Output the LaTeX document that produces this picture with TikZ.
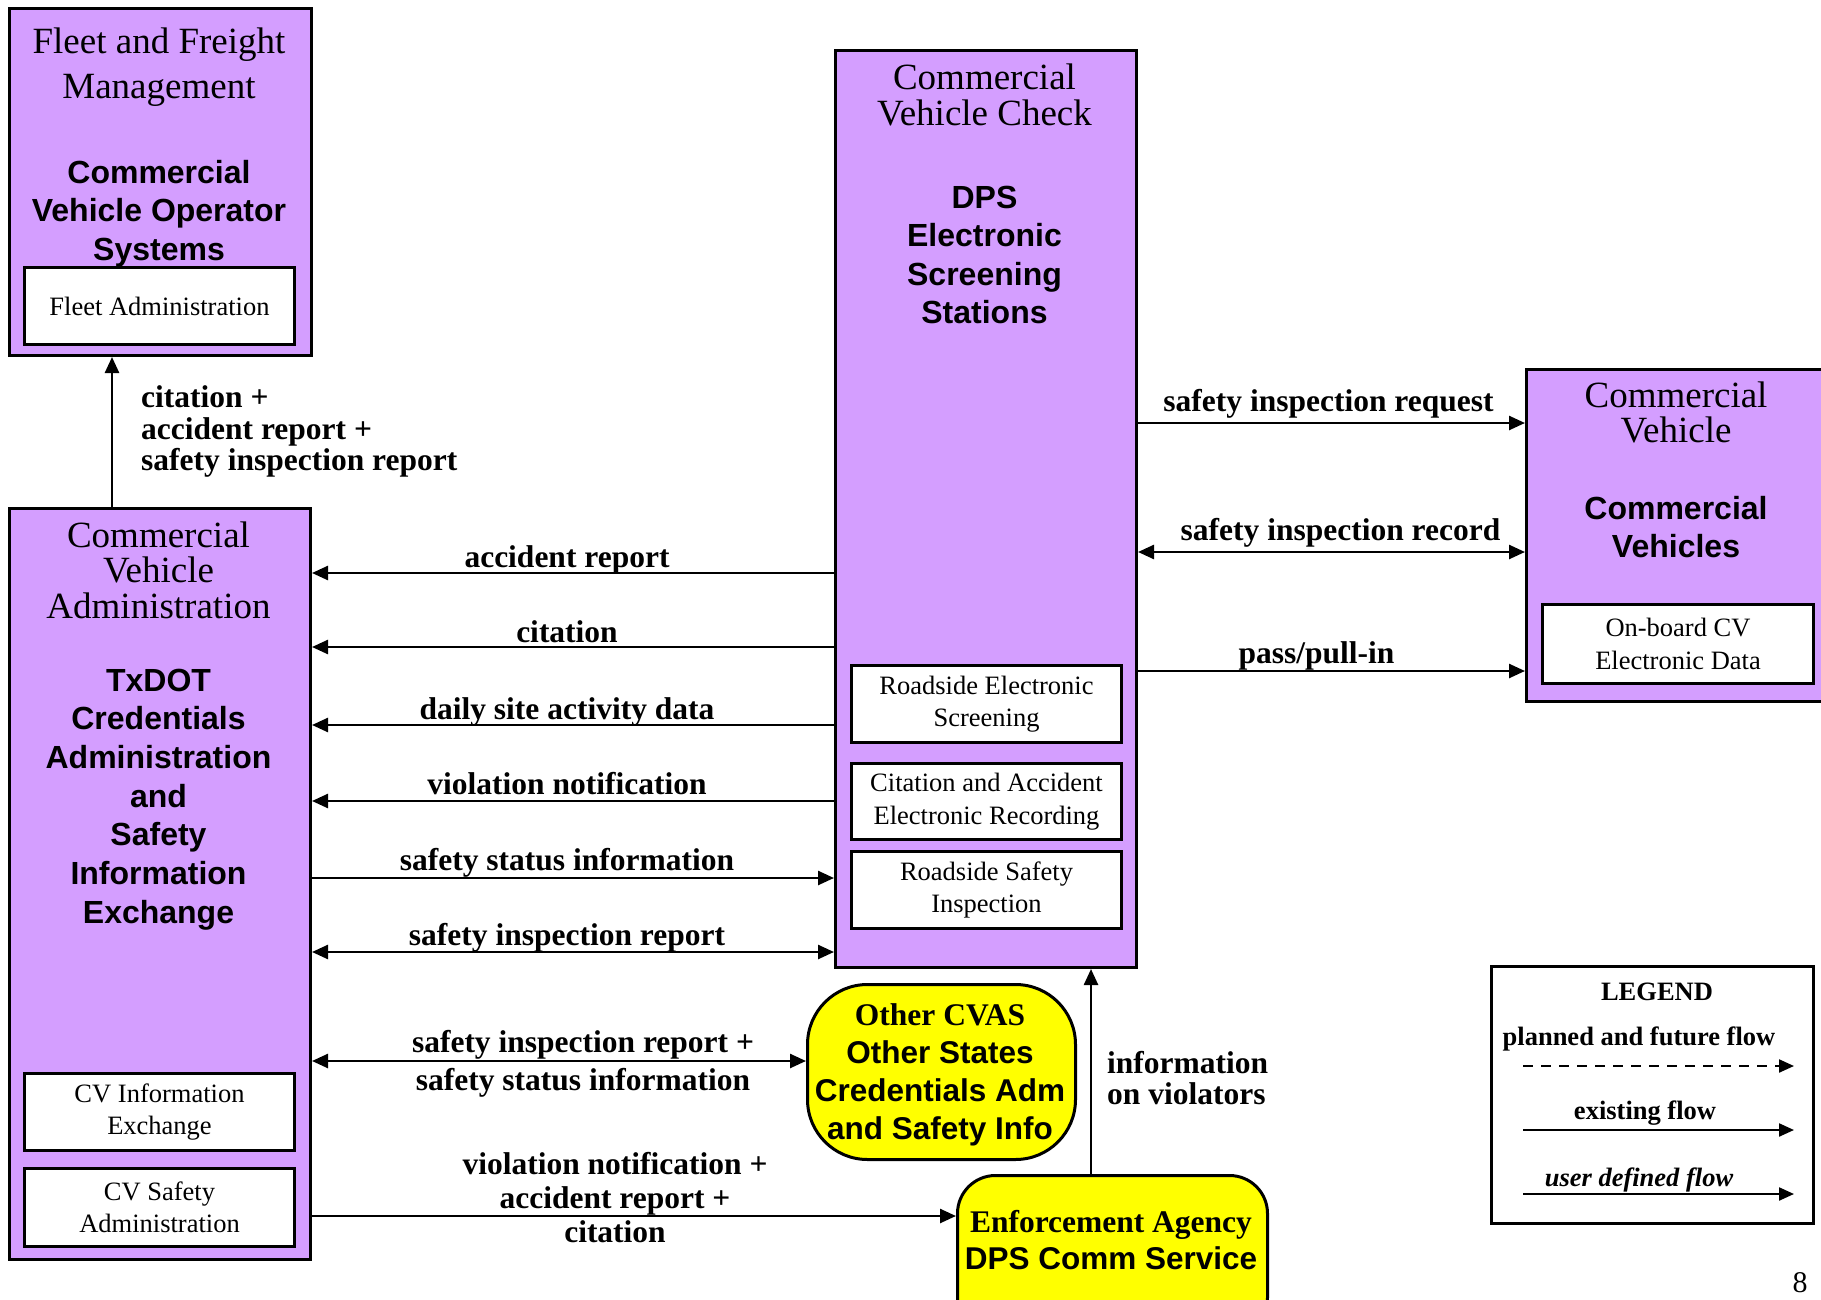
\documentclass[tikz,border=0pt]{standalone}
\usepackage{fontspec}
\setmainfont{Liberation Serif}
\setsansfont{Liberation Sans}
\usetikzlibrary{arrows.meta,calc}
\definecolor{sysviolet}{RGB}{212,158,255}
\definecolor{termyellow}{RGB}{255,255,0}
\begin{document}
\begin{tikzpicture}[x=1pt,y=-1pt,
  sysbox/.style={draw, line width=3pt, fill=sysviolet, anchor=north west, inner sep=0pt},
  subbox/.style={draw, line width=3pt, fill=white, anchor=north west, inner sep=0pt, align=center, font=\fontsize{26.5}{32.5}\selectfont},
  termbox/.style={draw, line width=3pt, fill=termyellow, anchor=north west, inner sep=0pt},
  ttl/.style={align=center, font=\fontsize{37}{36}\selectfont, inner sep=0pt},
  bld/.style={align=center, font=\sffamily\bfseries\fontsize{32}{38.3}\selectfont, inner sep=0pt},
  lbl/.style={font=\bfseries\fontsize{31.5}{31.5}\selectfont, inner sep=0pt},
  legtxt/.style={font=\bfseries\fontsize{26.5}{30}\selectfont, inner sep=0pt},
  flow/.style={line width=2.5pt, -{Triangle[length=16pt,width=14pt]}},
  flowtwo/.style={line width=2.5pt, {Triangle[length=16pt,width=14pt]}-{Triangle[length=16pt,width=14pt]}},
  legflow/.style={line width=2.2pt, -{Triangle[length=15pt,width=13pt]}},
]
\useasboundingbox (0,0) rectangle (1821,1300);
\clip (0,0) rectangle (1821,1300);

% coordinates for connector levels
\coordinate (xFl) at (112,0);
\coordinate (xInf) at (1091,0);
\coordinate (yAR) at (0,573);
\coordinate (yCit) at (0,647);
\coordinate (yDaily) at (0,725);
\coordinate (yViol) at (0,801);
\coordinate (ySSI) at (0,878);
\coordinate (ySIR) at (0,952);
\coordinate (yOth) at (0,1061);
\coordinate (yEnf) at (0,1216);
\coordinate (yReq) at (0,423);
\coordinate (yRec) at (0,552);
\coordinate (yPass) at (0,671);

% Fleet and Freight Management
\node[sysbox, minimum width=302pt, minimum height=347pt] (fleet) at (8,7) {};
\node[ttl, font=\fontsize{37}{45}\selectfont] (fleetT) at (159,67.5) {Fleet and Freight\\Management};
\node[bld] (fleetB) at (159,213.5) {Commercial\\Vehicle Operator\\Systems};
\node[subbox, minimum width=270pt, minimum height=77pt] (fleetA) at (23,266) {Fleet Administration};

% Commercial Vehicle Administration
\node[sysbox, minimum width=301pt, minimum height=751pt] (cva) at (8,507) {};
\node[ttl, font=\fontsize{37}{35.5}\selectfont] (cvaT) at (158.5,570) {Commercial\\Vehicle\\Administration};
\node[bld, font=\sffamily\bfseries\fontsize{32}{38.7}\selectfont] (cvaB) at (158.5,799.5) {TxDOT\\Credentials\\Administration\\and\\Safety\\Information\\Exchange};
\node[subbox, minimum width=270pt, minimum height=77pt] (cvie) at (23,1072) {CV Information\\Exchange};
\node[subbox, minimum width=270pt, minimum height=78pt] (cvsa) at (23,1167) {CV Safety\\Administration};

% Commercial Vehicle Check
\node[sysbox, minimum width=301pt, minimum height=917pt] (cvc) at (834,49) {};
\node[ttl] (cvcT) at (984.5,95) {Commercial\\Vehicle Check};
\node[bld] (cvcB) at (984.5,255) {DPS\\Electronic\\Screening\\Stations};
\node[subbox, minimum width=270pt, minimum height=77pt] (res) at (850,664) {Roadside Electronic\\Screening};
\node[subbox, minimum width=270pt, minimum height=76pt] (caer) at (850,762) {Citation and Accident\\Electronic Recording};
\node[subbox, minimum width=270pt, minimum height=77pt] (rsi) at (850,850) {Roadside Safety\\Inspection};

% Commercial Vehicle
\node[sysbox, minimum width=310pt, minimum height=332pt] (cv) at (1525,368) {};
\node[ttl, font=\fontsize{37}{35}\selectfont] (cvT) at (1676,412) {Commercial\\Vehicle};
\node[bld] (cvB) at (1676,527) {Commercial\\Vehicles};
\node[subbox, minimum width=271pt, minimum height=79pt] (obd) at (1541,603) {On-board CV\\Electronic Data};

% Terminators
\node[termbox, minimum width=268pt, minimum height=175pt, rounded corners=60pt] (ocvas) at (806,983) {};
\node[align=center, inner sep=0pt, font=\sffamily\bfseries\fontsize{31.5}{38}\selectfont] (ocvasT) at (940,1074.5) {{\rmfamily Other CVAS}\\Other States\\Credentials Adm\\and Safety Info};
\node[termbox, minimum width=310pt, minimum height=160pt, rounded corners=38pt] (enf) at (956,1174) {};
\node[align=center, inner sep=0pt, font=\sffamily\bfseries\fontsize{31.5}{37}\selectfont] (enfT) at (1111,1240) {{\rmfamily Enforcement Agency}\\DPS Comm Service};

% Flows
\draw[flow] (cva.north -| xFl) -- (fleet.south -| xFl);
\node[lbl, align=left, anchor=west] (lFl) at (141,431.5) {citation +\\accident report +\\safety inspection report};

\draw[flow] (cvc.west |- yAR) -- node[lbl, anchor=base, yshift=6pt, xshift=-6pt] (lAR) {accident report} (cva.east |- yAR);
\draw[flow] (cvc.west |- yCit) -- node[lbl, anchor=base, yshift=5pt, xshift=-6pt] (lCit) {citation} (cva.east |- yCit);
\draw[flow] (cvc.west |- yDaily) -- node[lbl, anchor=base, yshift=6pt, xshift=-6pt] (lDaily) {daily site activity data} (cva.east |- yDaily);
\draw[flow] (cvc.west |- yViol) -- node[lbl, anchor=base, yshift=6.5pt, xshift=-6pt] (lViol) {violation notification} (cva.east |- yViol);
\draw[flow] (cva.east |- ySSI) -- node[lbl, anchor=base, yshift=7.5pt, xshift=-6pt] (lSSI) {safety status information} (cvc.west |- ySSI);
\draw[flowtwo] (cva.east |- ySIR) -- node[lbl, anchor=base, yshift=6.5pt, xshift=-6pt] (lSIR) {safety inspection report} (cvc.west |- ySIR);

\draw[flowtwo] (cva.east |- yOth) -- (ocvas.west |- yOth);
\node[lbl, align=center, font=\bfseries\fontsize{31.5}{38}\selectfont] (lOth) at (583,1063.5) {safety inspection report +\\safety status information};

\draw[flow] (cva.east |- yEnf) -- (enf.west |- yEnf);
\node[lbl, align=center, font=\bfseries\fontsize{31.5}{34}\selectfont] (lEnf) at (615,1197.5) {violation notification +\\accident report +\\citation};

\draw[flow] (enf.north -| xInf) -- (cvc.south -| xInf);
\node[lbl, align=left, anchor=west, font=\bfseries\fontsize{31.5}{31}\selectfont] (lInf) at (1107,1078) {information\\on violators};

\draw[flow] (cvc.east |- yReq) -- node[lbl, anchor=base, yshift=12pt, xshift=-3pt] (lReq) {safety inspection request} (cv.west |- yReq);
\draw[flowtwo] (cvc.east |- yRec) -- node[lbl, anchor=base, yshift=12pt, xshift=9pt] (lRec) {safety inspection record} (cv.west |- yRec);
\draw[flow] (cvc.east |- yPass) -- node[lbl, anchor=base, yshift=8pt, xshift=-15pt] (lPass) {pass/pull-in} (cv.west |- yPass);

% Legend
\node[draw, line width=2.5pt, fill=white, anchor=north west, minimum width=322pt, minimum height=257pt, inner sep=0pt] (leg) at (1490,965) {};
\node[legtxt] (legT) at (1657,991.5) {LEGEND};
\node[legtxt] (legP) at (1639,1039) {planned and future flow};
\coordinate (lpa) at (1523,1066);
\coordinate (lpb) at (1794,1066);
\draw[legflow, dash pattern=on 10pt off 8pt] (lpa) -- (lpb);
\node[legtxt] (legE) at (1645,1113.5) {existing flow};
\coordinate (lea) at (1523,1130);
\coordinate (leb) at (1794,1130);
\draw[legflow] (lea) -- (leb);
\node[legtxt, font=\bfseries\itshape\fontsize{26.5}{30}\selectfont] (legU) at (1639,1179.5) {user defined flow};
\coordinate (lua) at (1523,1194);
\coordinate (lub) at (1794,1194);
\draw[legflow] (lua) -- (lub);

% page number
\node[inner sep=0pt, font=\fontsize{30}{30}\selectfont] (pg) at (1800,1283) {8};
\end{tikzpicture}
\end{document}
